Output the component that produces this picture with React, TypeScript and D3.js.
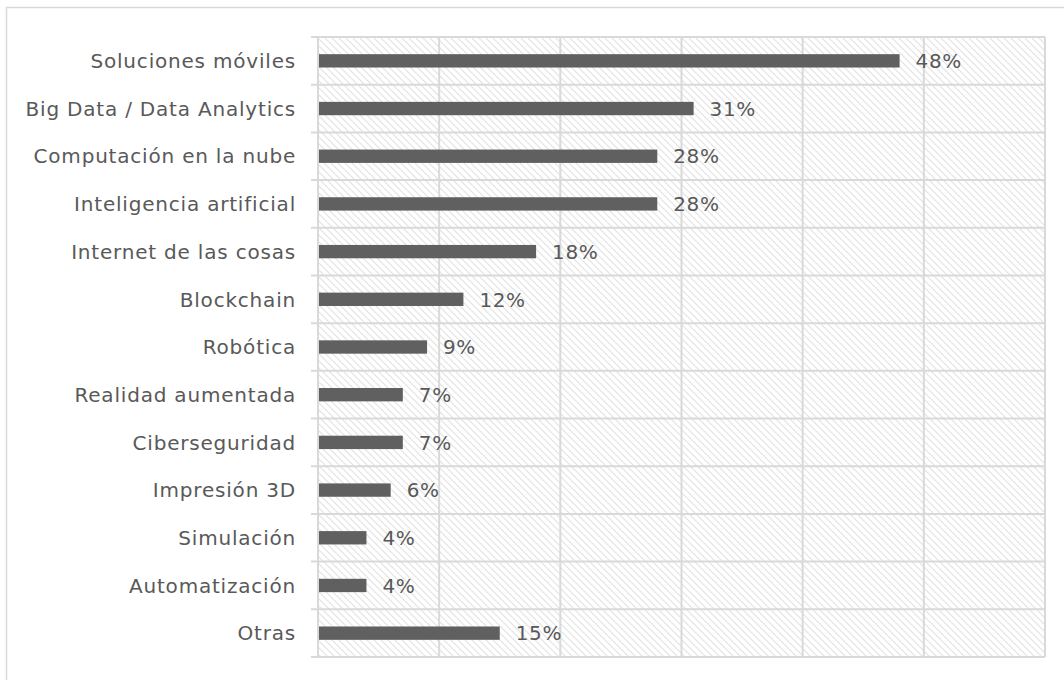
import React, { useEffect, useRef } from 'react';
import * as d3 from 'd3';

const categories = [
  'Soluciones móviles',
  'Big Data / Data Analytics',
  'Computación en la nube',
  'Inteligencia artificial',
  'Internet de las cosas',
  'Blockchain',
  'Robótica',
  'Realidad aumentada',
  'Ciberseguridad',
  'Impresión 3D',
  'Simulación',
  'Automatización',
  'Otras',
];
const values = [48, 31, 28, 28, 18, 12, 9, 7, 7, 6, 4, 4, 15];
const xTicks = [0, 10, 20, 30, 40, 50, 60];

const App = () => {
  const svgRef = useRef<SVGSVGElement>(null);

  useEffect(() => {
    const svg = d3.select(svgRef.current);
    svg.selectAll('*').remove();

    const left = 318;
    const right = 1045;
    const top = 37;
    const bottom = 657;
    const grid = '#d9d9d9';
    const textColor = '#595959';
    const font = '"DejaVu Sans", sans-serif';

    // hatch pattern for plot background
    const defs = svg.append('defs');
    const pat = defs
      .append('pattern')
      .attr('id', 'hatch')
      .attr('patternUnits', 'userSpaceOnUse')
      .attr('width', 7)
      .attr('height', 7);
    pat
      .append('path')
      .attr('d', 'M-1,-1 L8,8 M-1,6 L1,8 M6,-1 L8,1')
      .attr('stroke', '#e2e2e2')
      .attr('stroke-width', 1.2);

    // outer frame (cut off at right/bottom)
    svg
      .append('rect')
      .attr('x', 6.5)
      .attr('y', 7.5)
      .attr('width', 1100)
      .attr('height', 700)
      .attr('fill', 'none')
      .attr('stroke', grid)
      .attr('stroke-width', 1.5);

    const x = d3.scaleLinear().domain([0, 60]).range([left, right]);
    const y = d3.scaleBand<string>().domain(categories).range([top, bottom]).padding(0);
    const barH = y.step() * 0.28;

    svg
      .append('rect')
      .attr('x', left)
      .attr('y', top)
      .attr('width', right - left)
      .attr('height', bottom - top)
      .attr('fill', 'url(#hatch)');

    // vertical gridlines
    svg
      .append('g')
      .selectAll('line')
      .data(xTicks)
      .enter()
      .append('line')
      .attr('x1', (d) => x(d))
      .attr('x2', (d) => x(d))
      .attr('y1', top)
      .attr('y2', bottom)
      .attr('stroke', grid)
      .attr('stroke-width', 2);

    // horizontal gridlines at band boundaries (with outward tick)
    const bounds = categories.map((c) => y(c) as number).concat([bottom]);
    svg
      .append('g')
      .selectAll('line')
      .data(bounds)
      .enter()
      .append('line')
      .attr('x1', left - 7)
      .attr('x2', right)
      .attr('y1', (d) => d)
      .attr('y2', (d) => d)
      .attr('stroke', grid)
      .attr('stroke-width', 2);

    const rows = categories.map((c, i) => ({ cat: c, val: values[i] }));

    svg
      .append('g')
      .selectAll('rect')
      .data(rows)
      .enter()
      .append('rect')
      .attr('x', x(0) + 1)
      .attr('y', (d) => (y(d.cat) as number) + y.bandwidth() / 2 - barH / 2)
      .attr('width', (d) => x(d.val) - x(0) - 1)
      .attr('height', barH)
      .attr('fill', '#606060');

    // value labels
    svg
      .append('g')
      .selectAll('text')
      .data(rows)
      .enter()
      .append('text')
      .attr('x', (d) => x(d.val) + 16)
      .attr('y', (d) => (y(d.cat) as number) + y.bandwidth() / 2)
      .attr('dy', '0.36em')
      .attr('fill', textColor)
      .style('font-family', font)
      .style('font-size', '20px')
      .style('letter-spacing', '0.6px')
      .text((d) => `${d.val}%`);

    // category labels
    svg
      .append('g')
      .selectAll('text')
      .data(rows)
      .enter()
      .append('text')
      .attr('x', 296)
      .attr('y', (d) => (y(d.cat) as number) + y.bandwidth() / 2)
      .attr('dy', '0.36em')
      .attr('text-anchor', 'end')
      .attr('fill', textColor)
      .style('font-family', font)
      .style('font-size', '20px')
      .style('letter-spacing', '0.8px')
      .text((d) => d.cat);
  }, []);

  return (
    <svg
      ref={svgRef}
      width={1064}
      height={680}
      style={{ position: 'absolute', left: 0, top: 0, background: '#fff' }}
    />
  );
};

export default App;
